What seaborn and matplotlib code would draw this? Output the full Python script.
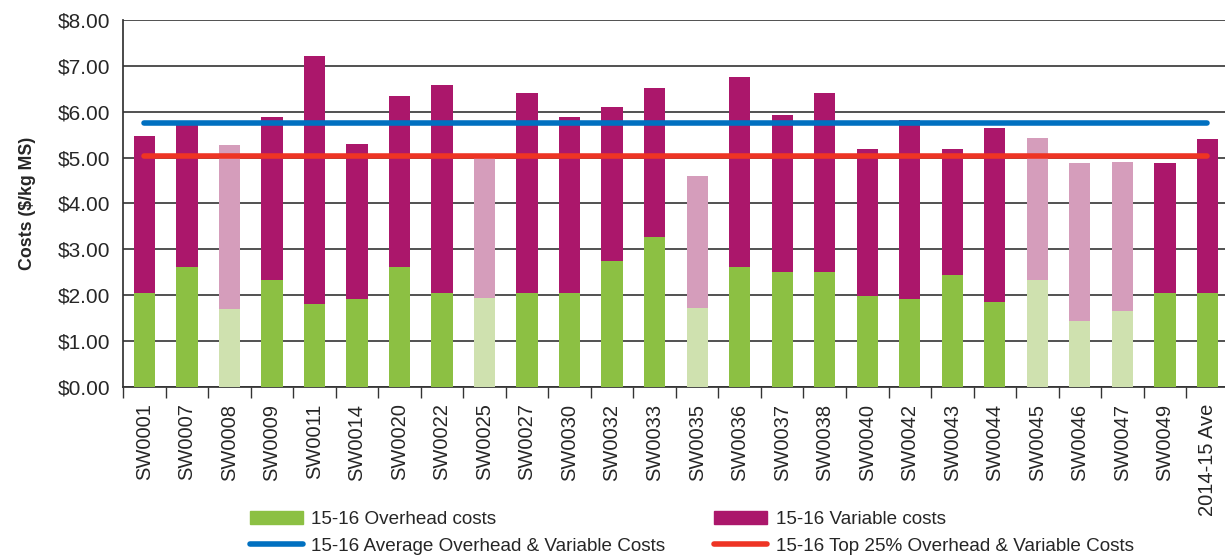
import numpy as np
import pandas as pd
import seaborn as sns
from matplotlib import pyplot as plt
from matplotlib.patches import Patch
from matplotlib.lines import Line2D

farms = ["SW0001", "SW0007", "SW0008", "SW0009", "SW0011", "SW0014", "SW0020",
         "SW0022", "SW0025", "SW0027", "SW0030", "SW0032", "SW0033", "SW0035",
         "SW0036", "SW0037", "SW0038", "SW0040", "SW0042", "SW0043", "SW0044",
         "SW0045", "SW0046", "SW0047", "SW0049", "2014-15 Ave"]
overhead = [2.04, 2.62, 1.70, 2.33, 1.80, 1.92, 2.62, 2.04, 1.94, 2.04, 2.04, 2.74, 3.26,
            1.72, 2.62, 2.50, 2.50, 1.98, 1.92, 2.44, 1.86, 2.33, 1.43, 1.65, 2.04, 2.04]
total = [5.47, 5.80, 5.27, 5.88, 7.22, 5.30, 6.34, 6.58, 4.98, 6.40, 5.88, 6.11, 6.52,
         4.60, 6.75, 5.93, 6.40, 5.18, 5.82, 5.18, 5.64, 5.43, 4.88, 4.90, 4.88, 5.41]
# farms shown in the faded colours
faded = ["SW0008", "SW0025", "SW0035", "SW0045", "SW0046", "SW0047"]
avg_cost = 5.75
top25_cost = 5.03

green = "#8cc043"
green_light = "#cfe1af"
purple = "#ab176b"
pink_light = "#d59dbb"
blue = "#0070c0"
red = "#ee3424"

df = pd.DataFrame({"Farm": farms, "Overhead": overhead, "Total": total})
df["Variable"] = df["Total"] - df["Overhead"]

sns.set_theme(style="white")
plt.rcParams["font.family"] = ["Liberation Sans", "DejaVu Sans"]

fig, ax = plt.subplots(figsize=(12.25, 5.55), dpi=100)
fig.subplots_adjust(left=0.1005, right=1.003, top=0.964, bottom=0.303)

var_pal = {f: (pink_light if f in faded else purple) for f in farms}
oh_pal = {f: (green_light if f in faded else green) for f in farms}

# stacked: draw the total first, then overhead over the bottom part
sns.barplot(data=df, x="Farm", y="Total", hue="Farm", palette=var_pal,
            width=0.5, saturation=1, legend=False, linewidth=0, ax=ax, zorder=3)
sns.barplot(data=df, x="Farm", y="Overhead", hue="Farm", palette=oh_pal,
            width=0.5, saturation=1, legend=False, linewidth=0, ax=ax, zorder=3)

pos = np.arange(len(farms))
sns.lineplot(x=pos, y=np.full(len(farms), avg_cost), color=blue, lw=4,
             solid_capstyle="round", ax=ax, zorder=4)
sns.lineplot(x=pos, y=np.full(len(farms), top25_cost), color=red, lw=4,
             solid_capstyle="round", ax=ax, zorder=4)

ax.set_ylim(0, 8)
ax.set_xlim(-0.5, len(farms) - 0.5)
ax.set_yticks(np.arange(0, 9, 1))
ax.set_yticklabels(["$%.2f" % v for v in np.arange(0, 9, 1)], fontsize=15)
ax.yaxis.grid(True, color="#222222", lw=1.1)
ax.set_axisbelow(True)
ax.tick_params(axis="y", length=0, pad=9)

ax.set_xticks(pos)
ax.set_xticklabels(farms, rotation=90, fontsize=14.5)
ax.set_xticks(np.arange(-0.5, len(farms), 1), minor=True)
ax.tick_params(axis="x", which="major", length=0, pad=12)
ax.tick_params(axis="x", which="minor", length=8, width=1, color="#333333",
               direction="out", bottom=True)

for s in ["top", "right"]:
    ax.spines[s].set_visible(False)
ax.spines["left"].set_color("#333333")
ax.spines["bottom"].set_color("#333333")

ax.set_xlabel("")
ax.set_ylabel("Costs ($/kg MS)", fontsize=12.8, fontweight="bold", labelpad=16)

handles = [Patch(color=green), Patch(color=purple),
           Line2D([0], [0], color=blue, lw=4), Line2D([0], [0], color=red, lw=4)]
labels = ["15-16 Overhead costs", "15-16 Variable costs",
          "15-16 Average Overhead & Variable Costs",
          "15-16 Top 25% Overhead & Variable Costs"]
# fig.legend fills row-wise so reorder for column layout
fig.legend([handles[0], handles[2], handles[1], handles[3]],
           [labels[0], labels[2], labels[1], labels[3]],
           ncol=2, loc="lower left", bbox_to_anchor=(0.19, -0.03),
           frameon=False, fontsize=13.6, handlelength=2.8, handleheight=0.7,
           handletextpad=0.45, columnspacing=2.6, labelspacing=0.5)

fig.savefig("out.png", dpi=100)
